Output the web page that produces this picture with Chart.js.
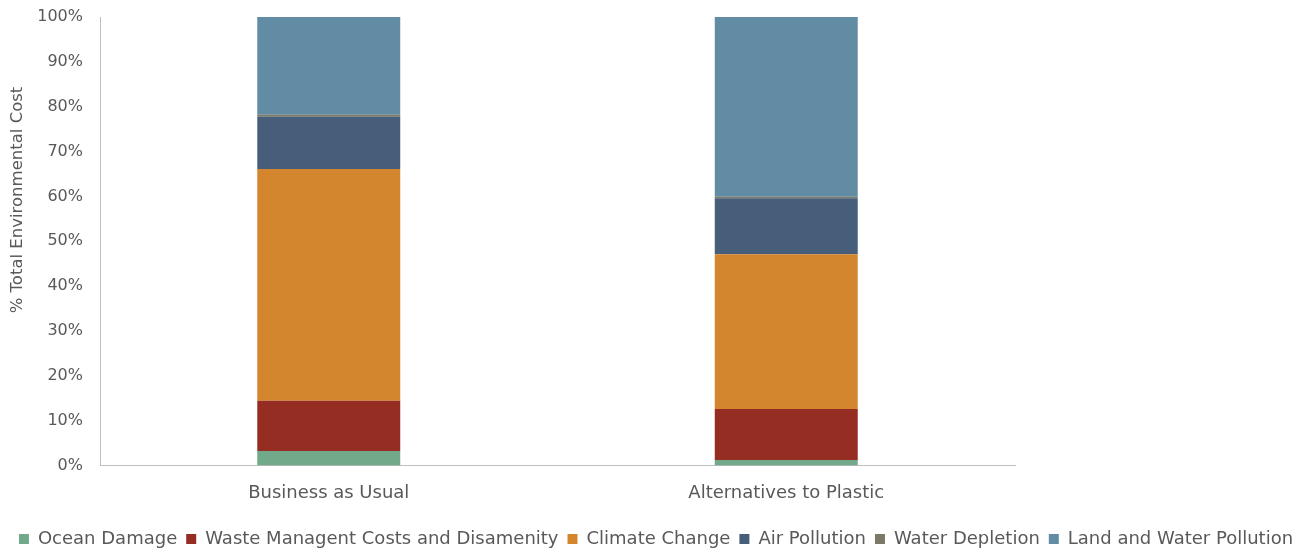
<!DOCTYPE html>
<html>
<head>
<meta charset="utf-8">
<script src="https://cdn.jsdelivr.net/npm/chart.js@4"></script>
<style>
html,body{margin:0;padding:0;background:#fff;}
#wrap{width:1312px;height:552px;position:relative;}
</style>
</head>
<body>
<div id="wrap"><canvas id="c" width="1312" height="552"></canvas></div>
<script>
const categories = ["Business as Usual", "Alternatives to Plastic"];
const oceanDamage = [3.2, 1.2];
const wasteManagement = [11.2, 11.4];
const climateChange = [51.7, 34.5];
const airPollution = [11.65, 12.5];
const waterDepletion = [0.45, 0.3];
const landWaterPollution = [21.8, 40.1];
const yTicks = [0,10,20,30,40,50,60,70,80,90,100];
const yTitle = '% Total Environmental Cost';

const FONT = "'DejaVu Sans', sans-serif";
const TXT = '#595959';

const mk = (label, data, color) => ({
  label, data, backgroundColor: color, borderWidth: 0,
  barPercentage: 0.3125, categoryPercentage: 1.0
});

const yTitlePlugin = {
  id: 'yTitle',
  afterDraw(chart) {
    const ctx = chart.ctx;
    ctx.save();
    ctx.translate(18, 200);
    ctx.rotate(-Math.PI / 2);
    ctx.font = "16.5px " + FONT;
    ctx.fillStyle = TXT;
    ctx.textAlign = 'center';
    ctx.textBaseline = 'middle';
    ctx.fillText(yTitle, 0, 0);
    ctx.restore();
  }
};

new Chart(document.getElementById('c'), {
  type: 'bar',
  data: {
    labels: categories,
    datasets: [
      mk('Ocean Damage', oceanDamage, '#72a98a'),
      mk('Waste Managent Costs and Disamenity', wasteManagement, '#962d22'),
      mk('Climate Change', climateChange, '#d4862f'),
      mk('Air Pollution', airPollution, '#475e7b'),
      mk('Water Depletion', waterDepletion, '#7b7a67'),
      mk('Land and Water Pollution', landWaterPollution, '#628ca3')
    ]
  },
  plugins: [yTitlePlugin],
  options: {
    responsive: false,
    animation: false,
    devicePixelRatio: 1,
    layout: { padding: { top: 17, left: 0, right: 0, bottom: -6 } },
    plugins: {
      tooltip: { enabled: false },
      legend: {
        position: 'bottom',
        labels: {
          boxWidth: 10, boxHeight: 10, padding: 9,
          color: TXT, font: { family: FONT, size: 18 }
        }
      }
    },
    scales: {
      x: {
        stacked: true,
        grid: { display: false, drawTicks: false },
        border: { display: true, color: '#bfbfbf', width: 1 },
        ticks: { color: TXT, font: { family: FONT, size: 18 }, padding: 17 }
      },
      y: {
        stacked: true,
        min: 0, max: 100,
        afterFit: s => { s.width = 100; },
        afterBuildTicks: s => { s.ticks = yTicks.map(v => ({ value: v })); },
        grid: { display: false, drawTicks: true, tickLength: 17 },
        border: { display: true, color: '#bfbfbf', width: 1 },
        ticks: { color: TXT, font: { family: FONT, size: 16 }, padding: 0, callback: v => v + '%' }
      },
      yR: {
        position: 'right',
        display: true,
        min: 0, max: 100,
        afterFit: s => { s.width = 297; },
        grid: { display: false, drawTicks: false },
        border: { display: false },
        ticks: { display: false, padding: 0 }
      }
    }
  }
});
</script>
</body>
</html>
